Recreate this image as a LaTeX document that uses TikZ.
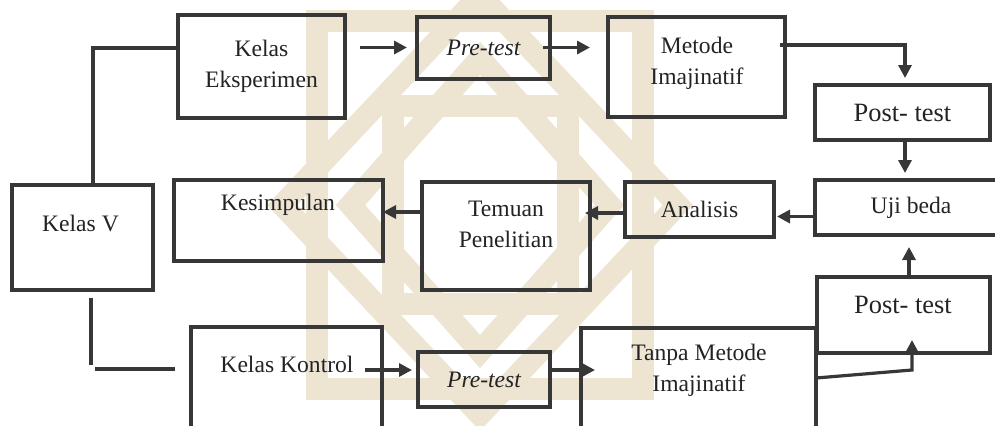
\documentclass[tikz,border=0pt]{standalone}
\usepackage{fontspec}
\setmainfont{Liberation Serif}
\usetikzlibrary{arrows.meta,calc}
\definecolor{wm}{RGB}{237,228,210}
\definecolor{ln}{RGB}{55,55,55}
\definecolor{tx}{RGB}{35,35,35}
\begin{document}
\begin{tikzpicture}[x=0.5pt,y=-0.5pt,
  bx/.style={draw=ln,line width=1.6pt,inner sep=0pt,outer sep=0pt,text=tx,align=center,
    font=\fontsize{11.8}{15.5}\selectfont},
  tt/.style={inner sep=0pt,outer sep=0pt,text=tx,align=center,font=\fontsize{11.8}{15.5}\selectfont},
  big/.style={font=\fontsize{13.2}{16}\selectfont},
  ln/.style={draw=ln,line width=1.6pt},
  arr/.style={draw=ln,line width=1.6pt,-{Triangle[length=6.5pt,width=6.5pt]}},
  wmb/.style={draw=wm,line width=11pt,line join=miter}]
\useasboundingbox (0,0) rectangle (995,425);
\clip (0,0) rectangle (995,425);
% watermark
\begin{scope}[shift={(480,205)},x=87.5pt,y=-99pt]
  \draw[wmb] (-0.93,-0.93) rectangle (0.93,0.93);
  \draw[wmb] (0,-1.06) -- (1.13,0) -- (0,1.06) -- (-1.13,0) -- cycle;
  \draw[wmb] (-0.5,-0.5) rectangle (0.5,0.5);
  \draw[wmb] (0,-0.74) -- (0.74,0) -- (0,0.74) -- (-0.74,0) -- cycle;
\end{scope}
% boxes
\node[bx,minimum width=83.5pt,minimum height=51.5pt] (ke) at (261.5,66.5) {Kelas\\Eksperimen};
\node[bx,minimum width=66.5pt,minimum height=31pt] (pt1) at (483.5,48) {\itshape Pre-test};
\node[bx,minimum width=88.5pt,minimum height=50pt] (mi) at (696.5,67) {};
\node[tt] (mit) at (697,63) {Metode\\Imajinatif};
\node[bx,big,minimum width=87.5pt,minimum height=27.5pt] (po1) at (902.5,112.5) {Post- test};
\node[bx,minimum width=96pt,minimum height=27.5pt] (ub) at (911,207.5) {Uji beda};
\node[bx,minimum width=74.5pt,minimum height=27.5pt] (an) at (699.5,209.5) {Analisis};
\node[bx,minimum width=84pt,minimum height=54pt] (tp) at (506,236) {};
\node[tt] (tpt) at (506,224) {Temuan\\Penelitian};
\node[bx,minimum width=104.5pt,minimum height=40.5pt] (ks) at (278.5,220.5) {};
\node[tt] (kst) at (278,205) {Kesimpulan};
\node[bx,minimum width=70.5pt,minimum height=52.5pt] (kv) at (82.5,237.5) {};
\node[tt] (kvt) at (80.5,223) {Kelas V};
\node[bx,minimum width=95.5pt,minimum height=76.5pt] (kk) at (286.5,403.5) {};
\node[tt] (kkt) at (287,364) {Kelas Kontrol};
\node[bx,minimum width=66pt,minimum height=27.5pt] (pt2) at (484,379.5) {\itshape Pre-test};
\node[bx,minimum width=117.5pt,minimum height=76pt] (tm) at (698.5,404) {};
\node[tt] (tmt) at (699,370) {Tanpa Metode\\Imajinatif};
\node[bx,minimum width=86.5pt,minimum height=38pt] (po2) at (903.5,315) {};
\node[tt,big] (po2t) at (903,305) {Post- test};
% connectors
\draw[ln] ($(kv.north)+(10.5,0)$) |- ($(ke.west)+(0,-18.5)$);
\draw[ln] ($(kv.south)+(8.5,8)$) -- ($(kv.south)+(8.5,75)$);
\draw[ln] ($(kv.south)+(12.5,79)$) -- ($(kk.north west)+(-16,42)$);
\draw[arr] ($(ke.east)+(15,-19)$) -- ($(pt1.west)+(-10,-0.5)$);
\draw[arr] ($(pt1.east)+(-7,-0.5)$) -- ($(mi.west |- pt1.east)+(-18,-0.5)$);
\draw[arr] ($(mi.east)+(-5,-22)$) -| ($(po1.north)+(2.5,-7)$);
\draw[arr] ($(po1.south)+(2.5,0)$) -- ($(po1.south |- ub.north)+(2.5,-7)$);
\draw[arr] ($(ub.west)+(0,9)$) -- ($(an.east)+(3,7)$);
\draw[arr] ($(an.west)+(0,3.5)$) -- ($(tp.east |- an.west)+(-5,3.5)$);
\draw[arr] ($(tp.west)+(0,-24)$) -- ($(ks.east |- tp.west)+(0,-24)$);
\draw[arr] ($(kkt.east)+(11,6)$) -- ($(pt2.west)+(-6,-9.5)$);
\draw[arr] ($(pt2.east)+(0,-9.5)$) -- ($(tm.west)+(14,-34)$);
\draw[arr] ($(tm.east)+(0,-26)$) -- ($(po2.south)+(8.5,17)$) -- ($(po2.south)+(8.5,-13)$);
\draw[arr] ($(po2.north)+(5.5,0)$) -- ($(po2.north)+(5.5,-30)$);
\end{tikzpicture}
\end{document}
